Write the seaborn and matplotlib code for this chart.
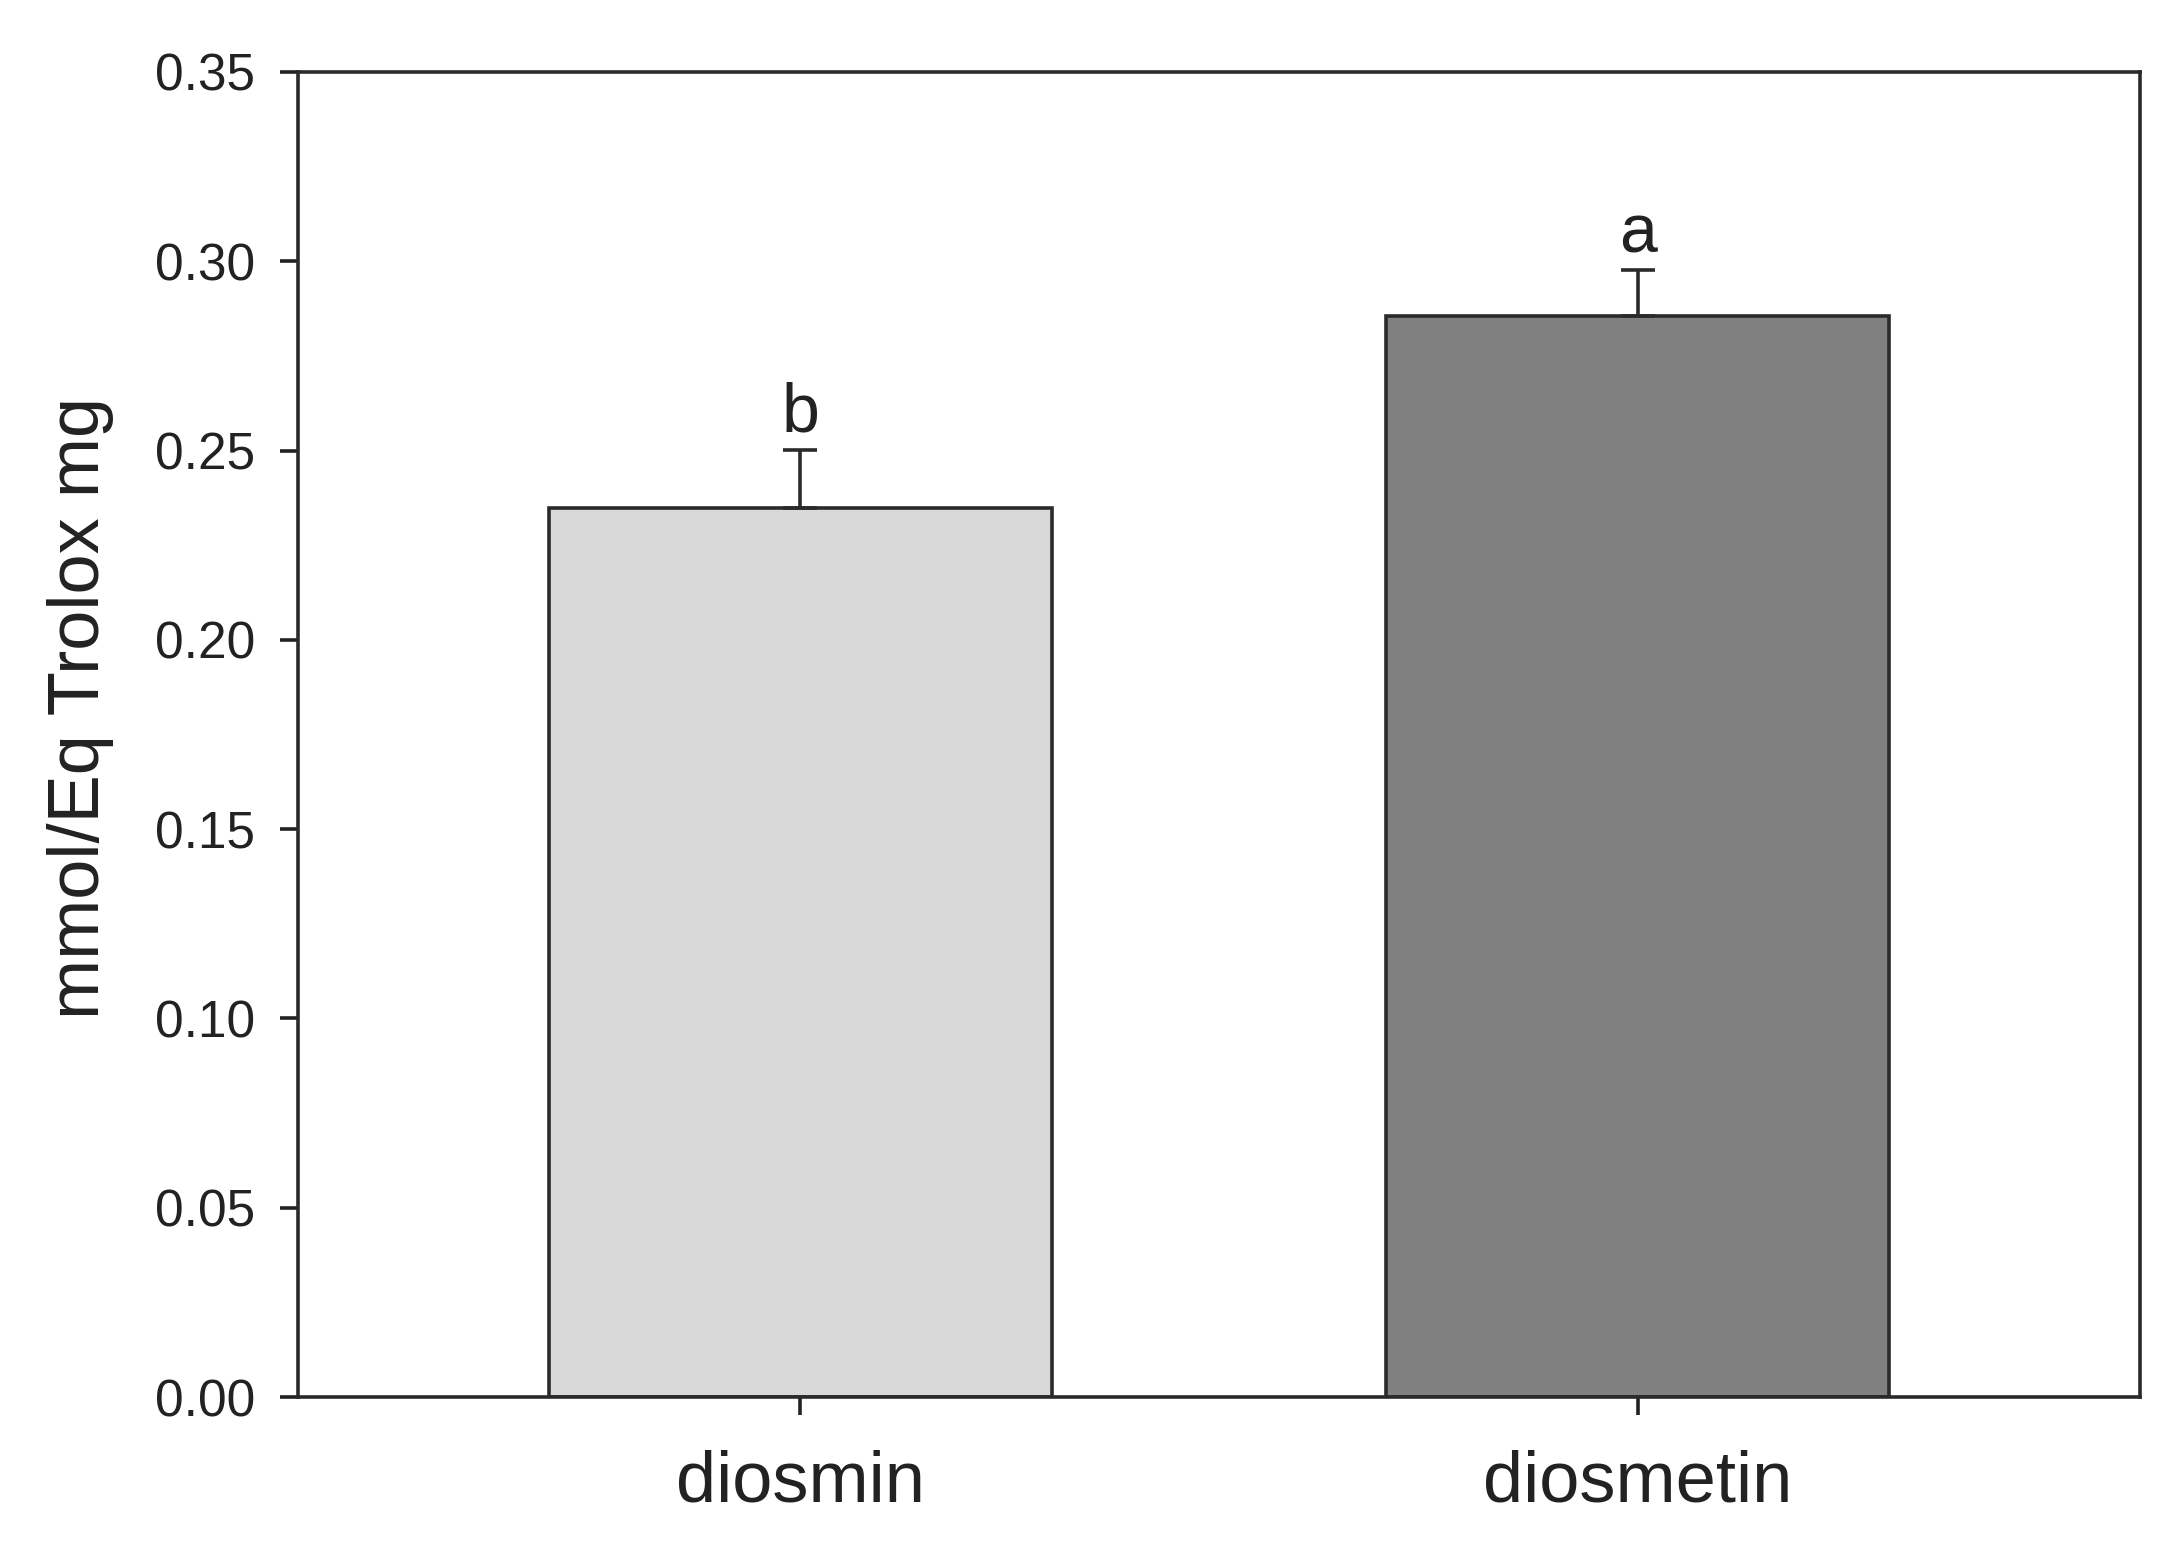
import numpy as np
import pandas as pd
import matplotlib
matplotlib.use("Agg")
import matplotlib.pyplot as plt
import seaborn as sns

# values
compounds = ["diosmin", "diosmetin"]
means = [0.2347, 0.2856]
errors = [0.0155, 0.0120]
letters = ["b", "a"]
bar_colors = ["#d8d8d8", "#808080"]
y_ticks = [0.00, 0.05, 0.10, 0.15, 0.20, 0.25, 0.30, 0.35]

df = pd.DataFrame({"compound": compounds, "value": means})

sns.set_style("white")
plt.rcParams['font.family'] = ['Liberation Sans', 'DejaVu Sans']

fig = plt.figure(figsize=(21.77, 15.44), dpi=100)
ax = fig.add_axes([0.1369, 0.0952, 0.8461, 0.8582])

sns.barplot(data=df, x="compound", y="value", hue="compound", palette=bar_colors,
            width=0.6, edgecolor="#2a2a2a", linewidth=2.6, legend=False, ax=ax)

pos = np.arange(len(compounds))
ax.errorbar(pos, means, yerr=[np.zeros(len(errors)), errors], fmt="none",
            ecolor="#2a2a2a", elinewidth=2.6, capsize=12, capthick=2.6)

for x, m, e, lab in zip(pos, means, errors, letters):
    ax.text(x, m + e + 0.001, lab, ha="center", va="bottom", fontsize=49, color="#222222")

ax.set_xlim(-0.6, 1.6)
ax.set_ylim(0, 0.35)
ax.set_yticks(y_ticks)
ax.set_yticklabels([f"{t:.2f}" for t in y_ticks])
ax.set_xlabel("")
ax.set_ylabel("mmol/Eq Trolox mg", fontsize=52, color="#222222")
ax.yaxis.set_label_coords(-0.1, 0.52)

ax.tick_params(axis="y", direction="out", length=13, width=2.6, pad=18,
               labelsize=37, colors="#222222", left=True)
ax.tick_params(axis="x", direction="out", length=13, width=2.6, pad=25,
               labelsize=52, colors="#222222", bottom=True)

for s in ax.spines.values():
    s.set_visible(True)
    s.set_linewidth(2.6)
    s.set_color("#2a2a2a")

fig.savefig("out.png", dpi=100, facecolor="white")
